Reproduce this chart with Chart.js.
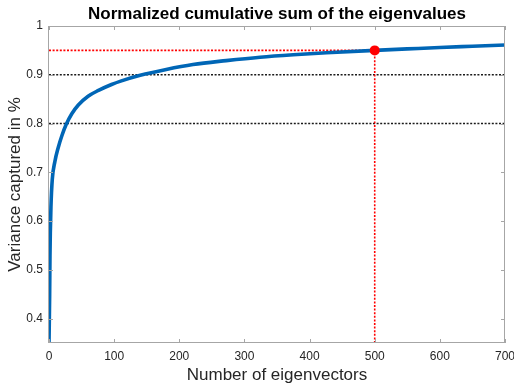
<!DOCTYPE html>
<html>
<head>
<meta charset="utf-8">
<script src="https://cdn.jsdelivr.net/npm/chart.js@4.4.1/dist/chart.umd.min.js"></script>
<style>
  html, body { margin: 0; padding: 0; background: #ffffff; }
  #c { display: block; }
</style>
</head>
<body>
<canvas id="c" width="514" height="387"></canvas>
<script>
// ---- data ----
const eigenCount = [0, 1, 1.5, 2, 3, 5, 9, 14, 20, 26, 35, 45, 60, 76, 96, 110, 140, 180, 221, 272, 324, 375, 426, 500, 550, 600, 650, 700];
const varianceCaptured = [0.35, 0.45, 0.53, 0.575, 0.63, 0.685, 0.722, 0.750, 0.776, 0.797, 0.820, 0.838, 0.856, 0.868, 0.880, 0.887, 0.899, 0.911, 0.921, 0.929, 0.936, 0.941, 0.945, 0.95, 0.953, 0.956, 0.9585, 0.961];
const thresholdLevels = [0.8, 0.9];
const markerX = [500];
const markerY = [0.95];
const xTickValues = [0, 100, 200, 300, 400, 500, 600, 700];
const xTickLabels = ['0', '100', '200', '300', '400', '500', '600', '700'];
const yTickValues = [0.4, 0.5, 0.6, 0.7, 0.8, 0.9, 1];
const yTickLabels = ['0.4', '0.5', '0.6', '0.7', '0.8', '0.9', '1'];
const xRange = [0, 700];
const yRange = [0.35, 1];

const FONT = "'Liberation Sans', Arial, Helvetica, sans-serif";
const TEXT = '#262626';

const curve = eigenCount.map((x, i) => ({ x: x, y: varianceCaptured[i] }));

const datasets = [];
// black dotted threshold lines
thresholdLevels.forEach(level => {
  datasets.push({
    data: [{ x: xRange[0], y: level }, { x: xRange[1], y: level }],
    borderColor: '#1a1a1a', borderWidth: 1.6, borderDash: [2, 1.6],
    pointRadius: 0, fill: false, order: 5
  });
});
// red dotted guide lines
datasets.push({
  data: [{ x: xRange[0], y: markerY[0] }, { x: markerX[0], y: markerY[0] }],
  borderColor: '#ff0000', borderWidth: 1.6, borderDash: [2, 1.6],
  pointRadius: 0, fill: false, order: 4
});
datasets.push({
  data: [{ x: markerX[0], y: yRange[0] }, { x: markerX[0], y: markerY[0] }],
  borderColor: '#ff0000', borderWidth: 1.6, borderDash: [2, 1.6],
  pointRadius: 0, fill: false, order: 4
});
// main curve
datasets.push({
  data: curve,
  borderColor: '#0066b6', borderWidth: 3.6,
  pointRadius: 0, fill: false, cubicInterpolationMode: 'monotone', order: 2
});
// red marker
datasets.push({
  data: [{ x: markerX[0], y: markerY[0] }],
  showLine: false, pointRadius: 5, pointBackgroundColor: '#ff0000',
  pointBorderColor: '#ff0000', pointBorderWidth: 0, order: 1
});

const boxPlugin = {
  id: 'boxTicks',
  afterDraw(chart) {
    const { ctx, chartArea: a, scales } = chart;
    ctx.save();
    ctx.strokeStyle = '#a6a6a6';
    ctx.lineWidth = 1;
    ctx.strokeRect(Math.round(a.left) - 0.5, Math.round(a.top) + 0.5, Math.round(a.right - a.left), Math.round(a.bottom - a.top) - 1);
    const tl = 4;
    ctx.beginPath();
    xTickValues.forEach(v => {
      const px = Math.round(scales.x.getPixelForValue(v)) + 0.5;
      ctx.moveTo(px, a.bottom); ctx.lineTo(px, a.bottom - tl);
      ctx.moveTo(px, a.top); ctx.lineTo(px, a.top + tl);
    });
    yTickValues.forEach(v => {
      const py = Math.round(scales.y.getPixelForValue(v)) + 0.5;
      ctx.moveTo(a.left, py); ctx.lineTo(a.left + tl, py);
      ctx.moveTo(a.right, py); ctx.lineTo(a.right - tl, py);
    });
    ctx.stroke();
    ctx.restore();
  }
};

new Chart(document.getElementById('c'), {
  type: 'line',
  data: { datasets: datasets },
  options: {
    responsive: false,
    devicePixelRatio: 1,
    animation: false,
    events: [],
    layout: { padding: { left: 0, right: 9, top: 0, bottom: 0 } },
    plugins: {
      legend: { display: false },
      tooltip: { enabled: false },
      title: {
        display: true,
        text: 'Normalized cumulative sum of the eigenvalues',
        fullSize: false,
        color: '#000000',
        font: { family: FONT, size: 17, weight: 'bold' },
        padding: { top: 4, bottom: 1.6 }
      }
    },
    scales: {
      x: {
        type: 'linear',
        min: xRange[0], max: xRange[1],
        grid: { display: false, drawTicks: false },
        border: { display: false },
        afterBuildTicks(scale) { scale.ticks = xTickValues.map(v => ({ value: v })); },
        afterFit(scale) { scale.height = 44; scale.paddingLeft = 0; scale.paddingRight = 0; },
        ticks: {
          color: TEXT, font: { family: FONT, size: 12 }, padding: 6,
          maxRotation: 0, autoSkip: false,
          callback: (v) => { const i = xTickValues.indexOf(v); return i >= 0 ? xTickLabels[i] : ''; }
        },
        title: {
          display: true, text: 'Number of eigenvectors', color: TEXT,
          font: { family: FONT, size: 17 }, padding: { top: 0, bottom: 1 }
        }
      },
      y: {
        type: 'linear',
        min: yRange[0], max: yRange[1],
        grid: { display: false, drawTicks: false },
        border: { display: false },
        afterBuildTicks(scale) { scale.ticks = yTickValues.map(v => ({ value: v })); },
        afterFit(scale) { scale.width = 49; scale.paddingTop = 0; scale.paddingBottom = 0; },
        ticks: {
          color: TEXT, font: { family: FONT, size: 12 }, padding: 6, autoSkip: false,
          callback: (v) => {
            const i = yTickValues.findIndex(t => Math.abs(t - v) < 1e-9);
            return i >= 0 ? yTickLabels[i] : '';
          }
        },
        title: {
          display: true, text: 'Variance captured in %', color: TEXT,
          font: { family: FONT, size: 17 }, padding: { top: 5, bottom: 0 }
        }
      }
    }
  },
  plugins: [boxPlugin]
});
</script>
</body>
</html>
